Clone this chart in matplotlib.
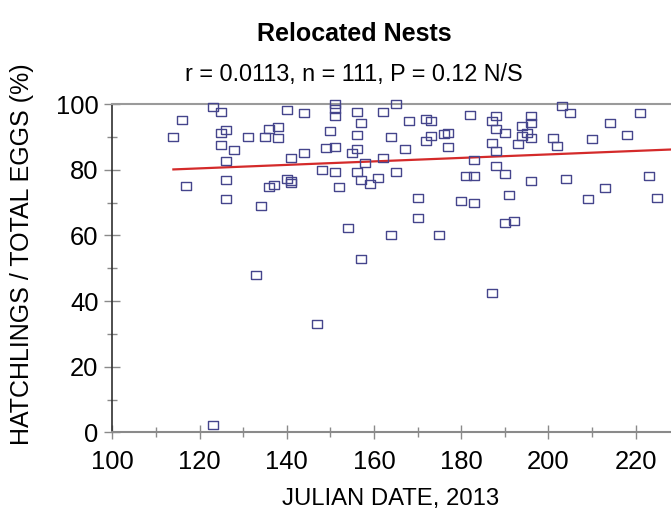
import matplotlib
matplotlib.use("Agg")
import matplotlib.pyplot as plt
from matplotlib import font_manager
from matplotlib.ticker import MultipleLocator

# nest date (Julian day) and hatch success (%) for relocated nests
julian_day = [
    123, 125, 116, 114, 125, 126, 131, 125, 128, 126, 140, 136, 138, 135, 138,
    141, 117, 126, 126, 134, 136, 137, 140, 141, 141,
    151, 151, 151, 165, 144, 156, 162, 157, 168, 172, 173, 182, 150, 156, 164,
    173, 172, 176, 177, 144, 149, 151, 155, 156, 167, 177, 162, 158, 183, 148,
    151, 156, 165, 157, 159, 161, 152, 181, 183, 170, 180, 183, 170, 154, 164,
    175, 157,
    203, 205, 188, 187, 196, 196, 194, 221, 214, 188, 190, 195, 194, 196, 201,
    210, 218, 187, 193, 202, 188, 188, 190, 196, 204, 223, 213, 191, 209, 225,
    190, 192,
    133, 147, 123, 187,
]
hatch_pct = [
    99.0, 97.6, 95.2, 89.9, 91.1, 92.0, 89.9, 87.5, 86.1, 82.6, 98.1, 92.3, 92.9,
    90.1, 89.7, 83.7, 75.0, 76.9, 71.2, 68.9, 74.7, 75.3, 77.2, 76.7, 75.9,
    100.0, 98.4, 96.4, 100.0, 97.4, 97.7, 97.6, 94.2, 94.8, 95.4, 94.8, 96.7,
    91.7, 90.6, 89.9, 90.2, 88.7, 91.0, 91.3, 85.2, 86.5, 86.8, 85.2, 86.2, 86.3,
    87.0, 83.7, 82.1, 82.9, 79.9, 79.4, 79.2, 79.2, 76.8, 75.8, 77.5, 74.8, 78.2,
    78.2, 71.5, 70.4, 69.9, 65.3, 62.4, 60.2, 60.2, 52.7,
    99.5, 97.2, 96.4, 94.8, 96.5, 94.2, 93.2, 97.2, 94.3, 92.3, 91.3, 91.2, 90.4,
    89.6, 89.6, 89.4, 90.7, 88.2, 87.8, 87.2, 85.7, 81.1, 78.7, 76.7, 77.1, 78.0,
    74.4, 72.4, 71.0, 71.3, 63.8, 64.5,
    47.9, 33.0, 2.3, 42.4,
]

# regression line end points
fit_day = [114, 240]
fit_pct = [80.1, 86.8]

names = {f.name for f in font_manager.fontManager.ttflist}
if "Liberation Sans Narrow" in names:
    family, k = "Liberation Sans Narrow", 1.0
else:
    family, k = "Liberation Sans", 0.82
plt.rcParams["font.family"] = family

fig = plt.figure(figsize=(6.71, 5.21), dpi=100)
ax = fig.add_axes([0.1674, 0.1701, 0.8326, 0.6301])

# slightly wide open squares
box = [(-1.25, -1), (1.25, -1), (1.25, 1), (-1.25, 1), (-1.25, -1)]
ax.plot(julian_day, hatch_pct, linestyle="none", marker=box, markersize=7.5,
        markerfacecolor="none", markeredgecolor="#45458c", markeredgewidth=1.0,
        clip_on=False, zorder=3)
ax.plot(fit_day, fit_pct, color="#d42a2a", lw=1.6, zorder=2)

ax.set_xlim(100, 228.1)
ax.set_ylim(0, 100)
ax.xaxis.set_major_locator(MultipleLocator(20))
ax.xaxis.set_minor_locator(MultipleLocator(10))
ax.yaxis.set_major_locator(MultipleLocator(20))
ax.yaxis.set_minor_locator(MultipleLocator(10))

ax.spines["right"].set_visible(False)
ax.spines["top"].set_color("#9a9a9a")
ax.spines["top"].set_linewidth(1.5)
ax.spines["bottom"].set_color("#8a8a8a")
ax.spines["bottom"].set_linewidth(1.5)
ax.spines["left"].set_color("#303030")
ax.spines["left"].set_linewidth(1.2)

ax.tick_params(axis="x", which="major", direction="inout", length=10,
               width=1.0, color="#8a8a8a", labelsize=22.5 * k, pad=8)
ax.tick_params(axis="x", which="minor", direction="inout", length=6.5,
               width=1.0, color="#8a8a8a")
ax.tick_params(axis="y", which="major", direction="inout", length=12,
               width=1.0, color="#8a8a8a", labelsize=22.5 * k, pad=4)
ax.tick_params(axis="y", which="minor", direction="inout", length=7,
               width=1.0, color="#8a8a8a")

fig.text(0.528, 0.921, "Relocated Nests", ha="center", va="baseline",
         fontsize=22 * k, fontweight="bold")
fig.text(0.528, 0.8436, "r = 0.0113, n = 111, P = 0.12 N/S", ha="center",
         va="baseline", fontsize=20.5 * k)
fig.text(0.582, 0.03, "JULIAN DATE, 2013", ha="center", va="baseline",
         fontsize=21 * k)
fig.text(0.033, 0.512, "HATCHLINGS / TOTAL EGGS (%)", ha="center",
         va="center", rotation=90, fontsize=22 * k)

fig.savefig("out.png", dpi=100)
